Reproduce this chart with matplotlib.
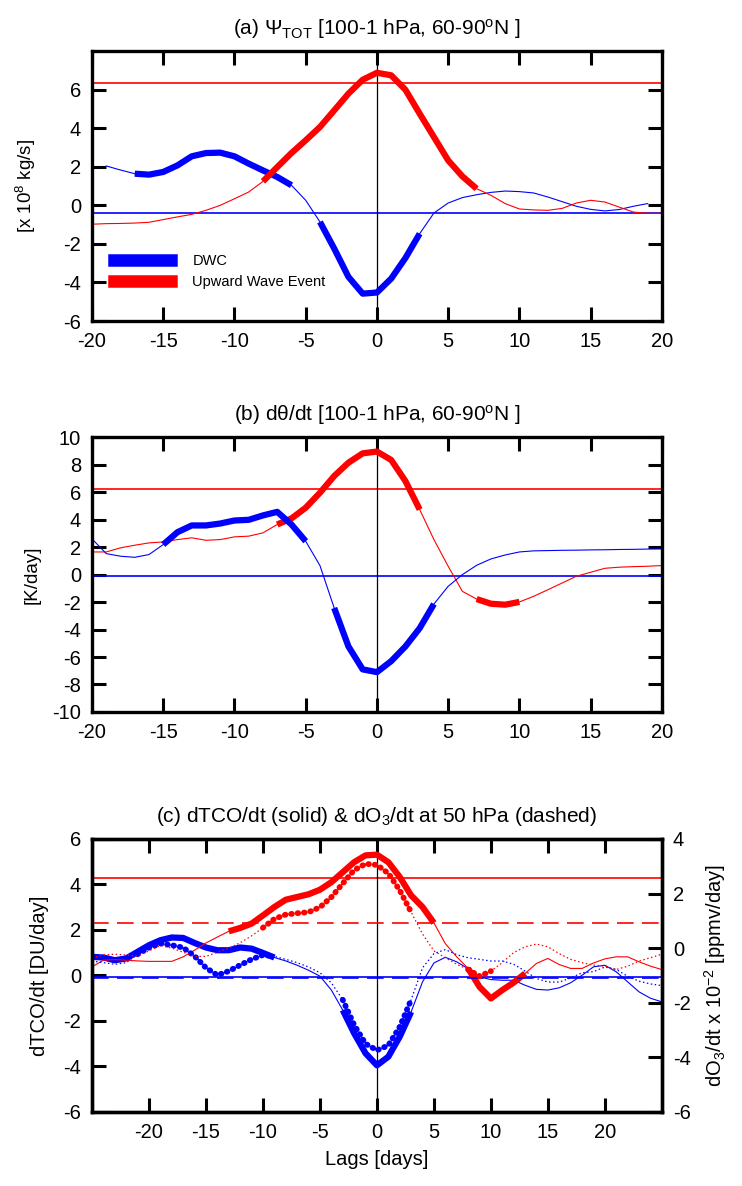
import numpy as np
import matplotlib
matplotlib.use("Agg")
import matplotlib.pyplot as plt
from matplotlib.lines import Line2D

plt.rcParams['font.family'] = ['Liberation Sans', 'DejaVu Sans']
plt.rcParams['mathtext.fontset'] = 'custom'
plt.rcParams['mathtext.rm'] = 'Liberation Sans'
plt.rcParams['mathtext.it'] = 'Liberation Sans:italic'
plt.rcParams['axes.unicode_minus'] = False

nan = np.nan

# ---- data ----
lags_ab = np.arange(-20, 21)
lags_c = np.arange(-25, 26)

# (a) Psi_TOT [x 10^8 kg/s]
a_dwc = [nan, 2.04, 1.83, 1.64, 1.59, 1.73, 2.07, 2.54, 2.71, 2.73, 2.54,
         2.16, 1.81, 1.47, 1.04, 0.26, -0.86, -2.24, -3.71, -4.58, -4.52,
         -3.8, -2.73, -1.47, -0.4, 0.12, 0.4, 0.55, 0.67, 0.74, 0.71,
         0.64, 0.43, 0.19, -0.05, -0.21, -0.29, -0.22, -0.05, 0.09, nan]
a_uwe = [-0.98, -0.95, -0.94, -0.92, -0.88, -0.74, -0.6, -0.47, -0.26, 0.0, 0.34,
         0.69, 1.24, 1.98, 2.71, 3.37, 4.06, 4.92, 5.79, 6.51, 6.87,
         6.74, 5.99, 4.75, 3.54, 2.33, 1.5, 0.86, 0.52, 0.09, -0.19,
         -0.24, -0.26, -0.16, 0.12, 0.26, 0.17, -0.09, -0.35, -0.41, -0.41]
a_dwc_sig = [(-17, -6), (-4, 3)]
a_uwe_sig = [(-8, 7)]
a_dwc_clim = -0.4
a_uwe_clim = 6.34

# (b) dtheta/dt [K/day]
b_dwc = [2.6, 1.53, 1.34, 1.26, 1.46, 2.19, 3.09, 3.58, 3.58, 3.72, 3.94,
         3.99, 4.31, 4.57, 3.65, 2.43, 0.66, -2.43, -5.23, -6.9, -7.1,
         -6.3, -5.23, -3.9, -2.14, -0.85, 0.0, 0.68, 1.14, 1.43, 1.65,
         1.73, 1.75, 1.77, 1.78, 1.8, 1.81, 1.83, 1.84, 1.86, 1.87]
b_uwe = [1.65, 1.65, 1.95, 2.14, 2.31, 2.38, 2.55, 2.68, 2.5, 2.55, 2.75,
         2.8, 3.04, 3.65, 4.09, 4.87, 5.96, 7.18, 8.15, 8.83, 8.96,
         8.35, 6.81, 4.74, 2.55, 0.61, -1.22, -1.78, -2.12, -2.19, -1.99,
         -1.58, -1.1, -0.61, -0.12, 0.17, 0.46, 0.54, 0.58, 0.61, 0.66]
b_dwc_sig = [(-15, -5), (-3, 4)]
b_uwe_sig = [(-7, 3), (7, 10)]
b_dwc_clim = -0.1
b_uwe_clim = 6.2

# (c) dTCO/dt [DU/day] (solid, left axis)
c_dwc_tco = [0.82, 0.79, 0.67, 0.75, 1.04, 1.33, 1.55, 1.67, 1.65, 1.43,
             1.23, 1.11, 1.11, 1.23, 1.18, 0.99, 0.79, 0.64, 0.45, 0.23,
             -0.03, -0.64, -1.52, -2.54, -3.42, -3.95, -3.57, -2.69, -1.6, -0.28,
             0.55, 0.8, 0.6, 0.3, -0.06, -0.18, -0.21, -0.21, -0.43, -0.61,
             -0.64, -0.54, -0.32, 0.01, 0.38, 0.45, 0.16, -0.28, -0.72, -1.0, -1.16]
c_uwe_tco = [0.38, 0.67, 0.7, 0.67, 0.64, 0.62, 0.62, 0.62, 0.82, 1.11,
             1.43, 1.69, 1.94, 2.09, 2.28, 2.64, 3.01, 3.33, 3.45, 3.57,
             3.77, 4.1, 4.54, 4.98, 5.28, 5.31, 4.98, 4.33, 3.52, 3.01,
             2.31, 1.4, 0.82, 0.31, -0.5, -1.01, -0.64, -0.31, 0.09, 0.53,
             0.75, 0.48, 0.31, 0.31, 0.55, 0.73, 0.82, 0.82, 0.6, 0.41, 0.26]
# dO3/dt at 50 hPa [x 10^-2 ppmv/day] (dotted, right axis)
c_dwc_o3 = [-0.47, -0.53, -0.59, -0.53, -0.22, 0.02, 0.17, 0.11, 0.02, -0.29,
            -0.72, -0.99, -0.84, -0.62, -0.41, -0.25, -0.3, -0.41, -0.53, -0.69,
            -0.9, -1.27, -1.89, -2.81, -3.5, -3.74, -3.56, -2.88, -1.89, -0.72,
            -0.2, -0.05, -0.24, -0.35, -0.41, -0.47, -0.47, -0.59, -0.84, -1.11,
            -1.24, -1.24, -1.09, -0.9, -0.86, -0.69, -0.78, -1.03, -1.21, -1.31, -1.37]
c_uwe_o3 = [-0.35, -0.25, -0.22, -0.25, -0.29, -0.1, 0.1, 0.0, -0.15, -0.3,
            -0.3, -0.15, 0.0, 0.2, 0.45, 0.75, 1.07, 1.23, 1.28, 1.32,
            1.5, 1.87, 2.37, 2.86, 3.09, 3.05, 2.74, 2.12, 1.32, 0.52,
            -0.1, -0.35, -0.59, -0.78, -1.03, -0.84, -0.53, -0.16, 0.05, 0.15,
            0.05, -0.2, -0.41, -0.53, -0.62, -0.66, -0.78, -0.66, -0.47, -0.35, -0.22]
c_dwc_tco_sig = [(-25, -9), (-3, 3)]
c_uwe_tco_sig = [(-13, 5), (8, 13)]
c_dwc_o3_sig = [(-21, -9), (-3, 3)]
c_uwe_o3_sig = [(-10, 3), (8, 10)]
c_dwc_tco_clim = -0.05
c_uwe_tco_clim = 4.28
c_dwc_o3_clim = -1.09
c_uwe_o3_clim = 0.91

BLUE = '#0000ff'
RED = '#ff0000'
THIN = 0.8
THICK = 4.5
DOT_THIN = (0, (1.2, 2.0))
DOT_THICK = (0, (0.1, 1.0))


def sig_line(ax, x, y, spans, color, dotted=False):
    '''Thin line for the whole series, thick line where significant.'''
    y = np.asarray(y, dtype=float)
    if dotted:
        ax.plot(x, y, color=color, lw=0.9, ls=DOT_THIN)
    else:
        ax.plot(x, y, color=color, lw=THIN)
    for a, b in spans:
        m = (x >= a) & (x <= b)
        if dotted:
            ax.plot(x[m], y[m], color=color, lw=4.2, ls=DOT_THICK,
                    dash_capstyle='round')
        else:
            ax.plot(x[m], y[m], color=color, lw=THICK,
                    solid_capstyle='butt', solid_joinstyle='round')


def style_axes(ax, right=True):
    for s in ax.spines.values():
        s.set_linewidth(2.4)
    ax.tick_params(which='major', direction='in', length=10, width=2.2,
                   labelsize=14.5, top=True, right=right, pad=8)


fig = plt.figure(figsize=(7.42, 11.86), dpi=100)
left, width = 0.124, 0.768

# ---- (a) ----
ax1 = fig.add_axes([left, 0.7293, width, 0.2277])
ax1.axhline(a_uwe_clim, color=RED, lw=1.2)
ax1.axhline(a_dwc_clim, color=BLUE, lw=1.2)
ax1.axvline(0, color='black', lw=0.9)
sig_line(ax1, lags_ab, a_dwc, a_dwc_sig, BLUE)
sig_line(ax1, lags_ab, a_uwe, a_uwe_sig, RED)
ax1.set_xlim(-20, 20)
ax1.set_ylim(-6, 8)
ax1.set_xticks(np.arange(-20, 21, 5))
ax1.set_yticks(np.arange(-6, 7, 2))
style_axes(ax1)
ax1.set_ylabel(r'[x 10$^{8}$ kg/s]', fontsize=13.5, labelpad=18)
ax1.set_title(r'(a) $\Psi_{\mathrm{TOT}}$ [100-1 hPa, 60-90$^{\mathrm{o}}$N ]',
              fontsize=15, pad=12)
handles = [Line2D([], [], color=BLUE, lw=9), Line2D([], [], color=RED, lw=9)]
ax1.legend(handles, ['DWC', 'Upward Wave Event'], loc='lower left',
           bbox_to_anchor=(0.015, 0.07), frameon=False, fontsize=10.5,
           handlelength=3.9, handletextpad=1.5, labelspacing=0.5)

# ---- (b) ----
ax2 = fig.add_axes([left, 0.3997, width, 0.2316])
ax2.axhline(b_uwe_clim, color=RED, lw=1.2)
ax2.axhline(b_dwc_clim, color=BLUE, lw=1.2)
ax2.axvline(0, color='black', lw=0.9)
sig_line(ax2, lags_ab, b_uwe, b_uwe_sig, RED)
sig_line(ax2, lags_ab, b_dwc, b_dwc_sig, BLUE)
ax2.set_xlim(-20, 20)
ax2.set_ylim(-10, 10)
ax2.set_xticks(np.arange(-20, 21, 5))
ax2.set_yticks(np.arange(-10, 11, 2))
style_axes(ax2)
ax2.set_ylabel('[K/day]', fontsize=13.5, labelpad=8)
ax2.set_title('(b) d\u03b8/dt [100-1 hPa, 60-90$^{\\mathrm{o}}$N ]',
              fontsize=15, pad=12)

# ---- (c) ----
ax3 = fig.add_axes([left, 0.0624, width, 0.2302])
ax4 = ax3.twinx()
ax3.axhline(c_uwe_tco_clim, color=RED, lw=1.2)
ax3.axhline(c_dwc_tco_clim, color=BLUE, lw=1.2)
ax4.axhline(c_uwe_o3_clim, color=RED, lw=1.2, ls=(0, (10, 5)))
ax4.axhline(c_dwc_o3_clim, color=BLUE, lw=1.2, ls=(0, (10, 5)))
ax3.axvline(0, color='black', lw=0.9)
sig_line(ax3, lags_c, c_dwc_tco, c_dwc_tco_sig, BLUE)
sig_line(ax3, lags_c, c_uwe_tco, c_uwe_tco_sig, RED)
sig_line(ax4, lags_c, c_dwc_o3, c_dwc_o3_sig, BLUE, dotted=True)
sig_line(ax4, lags_c, c_uwe_o3, c_uwe_o3_sig, RED, dotted=True)
ax3.set_xlim(-25, 25)
ax3.set_ylim(-6, 6)
ax4.set_ylim(-6, 4)
ax3.set_xticks(np.arange(-20, 21, 5))
ax3.set_yticks(np.arange(-6, 7, 2))
ax4.set_yticks(np.arange(-6, 5, 2))
style_axes(ax3, right=False)
style_axes(ax4)
ax4.tick_params(left=False, top=False)
ax3.set_ylabel('dTCO/dt [DU/day]', fontsize=14.5, labelpad=10)
ax4.set_ylabel(r'dO$_3$/dt x 10$^{-2}$ [ppmv/day]', fontsize=14.5, labelpad=8)
ax3.set_xlabel('Lags [days]', fontsize=14.5, labelpad=6)
ax3.set_title(r'(c) dTCO/dt (solid) & dO$_3$/dt at 50 hPa (dashed)',
              fontsize=15, pad=12)

fig.savefig('out.png', dpi=100)
